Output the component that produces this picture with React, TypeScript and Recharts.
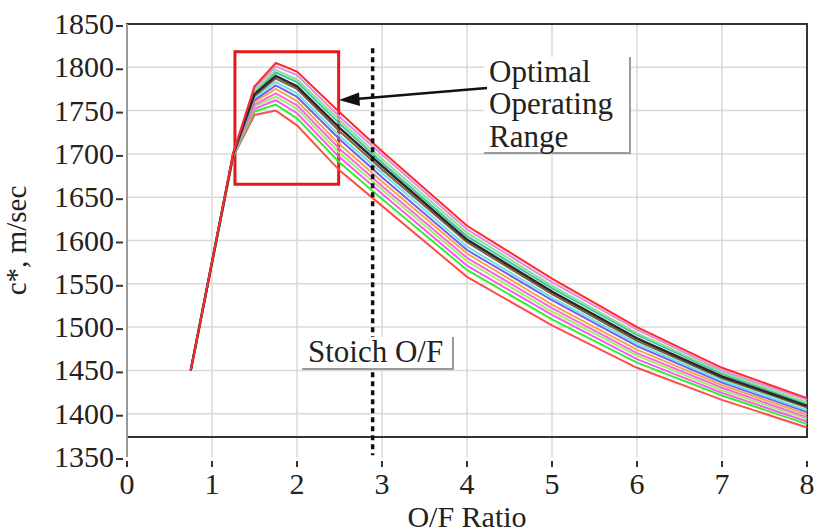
import React from "react";
import {
  LineChart,
  Line,
  XAxis,
  YAxis,
  CartesianGrid,
  ReferenceArea,
  ReferenceLine,
} from "recharts";

const FONT = "'Liberation Serif', 'Times New Roman', serif";

// O/F ratio sample points
const OF_RATIO = [0.75, 1.25, 1.5, 1.75, 2, 2.5, 3, 4, 5, 6, 7, 8];

// c* (m/sec) curves, top of the band to bottom
const CSTAR_RED_TOP = [1450, 1701, 1778, 1805, 1795, 1748, 1703, 1617, 1556, 1500, 1453, 1418];
const CSTAR_VIOLET = [1450, 1701, 1776, 1801, 1791, 1743, 1699, 1613, 1552, 1497, 1450, 1416];
const CSTAR_LIGHTGREEN = [1450, 1700, 1773, 1797, 1786, 1739, 1694, 1609, 1548, 1493, 1448, 1413];
const CSTAR_TEAL = [1450, 1700, 1771, 1794, 1783, 1735, 1690, 1605, 1545, 1491, 1446, 1411];
const CSTAR_BLACK = [1450, 1700, 1769, 1790, 1778, 1730, 1686, 1601, 1541, 1487, 1443, 1409];
const CSTAR_BROWN = [1450, 1700, 1767, 1787, 1775, 1726, 1682, 1598, 1538, 1484, 1441, 1407];
const CSTAR_CYAN = [1450, 1699, 1765, 1783, 1770, 1721, 1678, 1593, 1534, 1481, 1438, 1404];
const CSTAR_BLUE = [1450, 1699, 1762, 1779, 1766, 1717, 1673, 1589, 1531, 1478, 1436, 1402];
const CSTAR_ORANGE = [1450, 1699, 1760, 1775, 1761, 1711, 1668, 1585, 1526, 1474, 1433, 1399];
const CSTAR_PINK = [1450, 1698, 1757, 1770, 1756, 1706, 1663, 1580, 1522, 1470, 1430, 1396];
const CSTAR_LIME = [1450, 1698, 1755, 1766, 1752, 1701, 1659, 1576, 1518, 1467, 1427, 1394];
const CSTAR_MAGENTA = [1450, 1698, 1752, 1762, 1747, 1696, 1654, 1571, 1514, 1463, 1424, 1391];
const CSTAR_GREEN = [1450, 1697, 1749, 1757, 1741, 1690, 1648, 1566, 1509, 1459, 1421, 1388];
const CSTAR_RED_BOTTOM = [1450, 1697, 1745, 1750, 1733, 1681, 1640, 1558, 1502, 1453, 1416, 1384];

const SERIES = [
  { key: "redBottom", values: CSTAR_RED_BOTTOM, color: "#ff4d4d" },
  { key: "green", values: CSTAR_GREEN, color: "#33ee33" },
  { key: "magenta", values: CSTAR_MAGENTA, color: "#ff55f0" },
  { key: "lime", values: CSTAR_LIME, color: "#9cf06a" },
  { key: "pink", values: CSTAR_PINK, color: "#f46ad8" },
  { key: "orange", values: CSTAR_ORANGE, color: "#f2a64a" },
  { key: "blue", values: CSTAR_BLUE, color: "#7a5cf0" },
  { key: "cyan", values: CSTAR_CYAN, color: "#66e6e6" },
  { key: "brown", values: CSTAR_BROWN, color: "#8a5a3a" },
  { key: "teal", values: CSTAR_TEAL, color: "#3cc8a0" },
  { key: "lightGreen", values: CSTAR_LIGHTGREEN, color: "#8fe08f" },
  { key: "violet", values: CSTAR_VIOLET, color: "#e08ae8" },
  { key: "black", values: CSTAR_BLACK, color: "#2a2a2a" },
  { key: "redTop", values: CSTAR_RED_TOP, color: "#ff2a2a" },
];

const X_TICKS = [0, 1, 2, 3, 4, 5, 6, 7, 8];
const Y_TICKS = [1350, 1400, 1450, 1500, 1550, 1600, 1650, 1700, 1750, 1800, 1850];

const STOICH_OF = 2.89;

const data = OF_RATIO.map((x, i) => {
  const row: Record<string, number> = { x };
  SERIES.forEach((s) => {
    row[s.key] = s.values[i];
  });
  return row;
});

function YTick({ x, y, payload }: any) {
  return (
    <g>
      <text x={x - 13} y={y + 10} textAnchor="end" fontFamily={FONT} fontSize={30} fill="#222">
        {payload.value}
      </text>
      <line x1={x - 11} x2={x - 4} y1={y + 2} y2={y + 2} stroke="#333" strokeWidth={2} />
    </g>
  );
}

function XTick({ x, y, payload }: any) {
  return (
    <g>
      <line x1={x} x2={x} y1={y + 4} y2={y + 10} stroke="#333" strokeWidth={2} />
      <text x={x} y={y + 37} textAnchor="middle" fontFamily={FONT} fontSize={30} fill="#222">
        {payload.value}
      </text>
    </g>
  );
}

function XTitle({ viewBox }: any) {
  const cx = viewBox.x + viewBox.width / 2;
  return (
    <text x={cx} y={527} textAnchor="middle" fontFamily={FONT} fontSize={30} fill="#222">
      O/F Ratio
    </text>
  );
}

export default function App() {
  return (
    <div style={{ position: "absolute", left: 0, top: 0, width: 814, height: 532, background: "#fff" }}>
      <LineChart width={814} height={532} data={data} margin={{ top: 24, right: 7, bottom: 0, left: 0 }}>
        <CartesianGrid
          stroke="#d9d9d9"
          strokeWidth={1.5}
          horizontalValues={[1400, 1450, 1500, 1550, 1600, 1650, 1700, 1750, 1800]}
          verticalValues={[1, 2, 3, 4, 5, 6, 7]}
        />
        <XAxis
          dataKey="x"
          type="number"
          domain={[0, 8]}
          ticks={X_TICKS}
          height={75}
          axisLine={false}
          tickLine={false}
          tickSize={0}
          tickMargin={0}
          tick={<XTick />}
          label={<XTitle />}
        />
        <YAxis
          type="number"
          domain={[1350, 1850]}
          ticks={Y_TICKS}
          width={127}
          axisLine={{ stroke: "#999", strokeWidth: 2 }}
          tickLine={false}
          tickSize={0}
          tickMargin={0}
          tick={<YTick />}
          label={{
            value: "c*, m/sec",
            angle: -90,
            position: "insideLeft",
            offset: 16,
            fontSize: 29,
            fontFamily: FONT,
            fill: "#222",
            style: { textAnchor: "middle" },
          }}
        />
        {SERIES.map((s) => (
          <Line
            key={s.key}
            dataKey={s.key}
            stroke={s.color}
            strokeWidth={s.key === "black" ? 2.5 : 2}
            dot={false}
            isAnimationActive={false}
          />
        ))}
        <ReferenceArea x1={0} x2={8} y1={1373} y2={1850} fill="none" stroke="#333" strokeWidth={2} />
        <ReferenceArea x1={1.27} x2={2.49} y1={1665} y2={1818} fill="none" stroke="#e01b1b" strokeWidth={3} />
        <ReferenceLine
          segment={[
            { x: STOICH_OF, y: 1822 },
            { x: STOICH_OF, y: 1352 },
          ]}
          stroke="#111"
          strokeWidth={3.5}
          strokeDasharray="5 4"
        />
      </LineChart>
      <svg width={814} height={532} style={{ position: "absolute", left: 0, top: 0, pointerEvents: "none" }}>
        <rect x={484} y={57} width={146} height={96} fill="#fff" />
        <polyline points="630,57 630,153 484,153" fill="none" stroke="#9a9a9a" strokeWidth={2} />
        <text fontFamily={FONT} fontSize={31} fill="#222">
          <tspan x={489} y={82}>Optimal</tspan>
          <tspan x={489} y={114}>Operating</tspan>
          <tspan x={489} y={147}>Range</tspan>
        </text>
        <line x1={487} y1={88} x2={356} y2={99} stroke="#111" strokeWidth={2.5} />
        <polygon points="339,100 359,92.5 360,106" fill="#111" />
        <rect x={302} y={337} width={151} height={32} fill="#fff" />
        <polyline points="453,337 453,369 302,369" fill="none" stroke="#9a9a9a" strokeWidth={2} />
        <text x={308} y={362} fontFamily={FONT} fontSize={31} fill="#222">
          Stoich O/F
        </text>
      </svg>
    </div>
  );
}
